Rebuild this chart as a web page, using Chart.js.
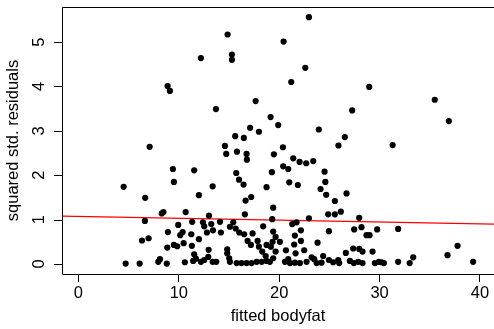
<!DOCTYPE html>
<html>
<head>
<meta charset="utf-8">
<script src="https://cdn.jsdelivr.net/npm/chart.js@4.4.1/dist/chart.umd.min.js"></script>
<style>
    html, body { margin: 0; padding: 0; background: #fff; overflow: hidden; }
    #wrap { width: 494px; height: 329px; }
</style>
</head>
<body>
<div id="wrap"><canvas id="residChart" width="494" height="329"></canvas></div>
<script>
// fitted values (x) and squared standardized residuals (y)
const fittedBodyfat = [
    14.86, 20.44, 12.2, 15.29, 15.29, 21.2, 8.88, 9.11, 17.65, 13.70, 19.14, 19.9, 17.1, 17.98, 15.62, 16.48,
    22.96, 22.6, 28.97, 35.5, 27.27, 36.9, 23.95, 26.54,
    7.09, 14.59, 14.72, 15.79, 9.41, 11.53, 15.72, 16.0, 4.5, 9.51, 13.37, 6.65, 12.0,
    20.37, 25.9, 16.75, 16.78, 19.47, 21.4, 22.03, 22.69, 23.39, 20.4, 20.9, 19.27, 24.52, 16.45, 21.0, 21.86,
    24.6, 18.74, 24.12, 24.68, 26.71, 17.21, 16.65, 25.55, 31.3,
    8.47, 8.3, 6.62, 8.91, 6.33, 6.99, 8.85, 7.95, 8.12, 8.8, 4.7, 6.1,
    10.68, 13.0, 9.94, 11.33, 12.4, 12.53, 13.23, 13.4, 10.38, 10.14, 11.24, 12.0, 12.8, 9.51, 9.84, 10.48,
    11.3, 12.97, 11.53, 10.6, 11.43, 11.7, 12.2, 12.53, 12.93, 13.37, 13.73,
    16.58, 14.1, 15.42, 15.09, 15.66, 16.02, 16.51, 17.35, 18.4, 14.19, 16.85, 17.85, 17.18, 17.98, 18.74,
    14.82, 14.82, 18.31, 15.02, 15.09, 15.76, 16.25, 16.75, 17.25, 17.75, 18.25, 18.74, 18.65,
    19.4, 19.3, 21.3, 21.73, 22.96, 19.4, 22.16, 19.64, 21.56, 19.34, 20.07, 22.16, 19.17, 21.49, 23.82,
    19.64, 20.67, 22.49, 21.63, 19.4, 23.23, 19.07, 20.57, 20.9, 21.07, 21.56, 22.06, 22.73, 23.49, 23.73,
    24.88, 25.55, 26.14, 27.97, 24.95, 27.47, 28.2, 28.7, 29.0, 29.76, 27.37, 27.97, 28.3, 26.64, 29.3,
    24.38, 24.95, 25.38, 25.88, 25.98, 24.22, 27.04, 27.44, 27.87, 28.3, 29.53, 29.93,
    31.85, 30.2, 30.43, 31.85, 33.0, 33.35, 36.77, 37.77, 39.32
];
const sqStdResid = [
    5.17, 5.01, 4.64, 4.72, 4.60, 4.10, 4.01, 3.90, 3.67, 3.49, 3.31, 3.13, 3.07, 2.98, 2.88, 2.84,
    5.56, 4.42, 3.99, 3.70, 3.46, 3.22, 3.03, 2.86,
    2.64, 2.66, 2.48, 2.53, 2.14, 2.11, 2.05, 1.90, 1.74, 1.85, 1.75, 1.49, 1.55,
    2.63, 2.67, 2.48, 2.35, 2.47, 2.38, 2.30, 2.27, 2.32, 2.20, 2.14, 2.07, 2.08, 1.79, 1.84, 1.78,
    1.85, 1.73, 1.69, 1.56, 1.59, 1.51, 1.43, 1.42, 2.68,
    1.17, 1.14, 0.97, 0.72, 0.53, 0.58, 0.37, 0.05, 0.11, 0.01, 0.01, 0.01,
    1.17, 1.09, 0.88, 0.95, 0.94, 0.85, 0.90, 0.76, 0.72, 0.65, 0.67, 0.56, 0.71, 0.43, 0.40, 0.47,
    0.41, 0.32, 0.22, 0.04, 0.07, 0.12, 0.05, 0.09, 0.16, 0.05, 0.05,
    1.12, 0.95, 0.94, 0.84, 0.80, 0.71, 0.67, 0.69, 0.85, 0.71, 0.52, 0.52, 0.43, 0.39, 0.43,
    0.33, 0.24, 0.28, 0.13, 0.05, 0.02, 0.02, 0.02, 0.02, 0.05, 0.05, 0.07, 0.18,
    1.27, 1.01, 0.90, 0.94, 1.03, 0.73, 0.76, 0.61, 0.64, 0.50, 0.50, 0.52, 0.39, 0.44, 0.48,
    0.28, 0.31, 0.31, 0.24, 0.13, 0.15, 0.05, 0.05, 0.11, 0.02, 0.03, 0.02, 0.05, 0.11, 0.02,
    1.12, 1.12, 1.18, 1.04, 0.74, 0.78, 0.83, 0.65, 0.65, 0.78, 0.35, 0.34, 0.28, 0.25, 0.28,
    0.18, 0.09, 0.04, 0.09, 0.02, 0.03, 0.07, 0.02, 0.05, 0.02, 0.02, 0.05,
    0.79, 0.04, 0.02, 0.05, 0.02, 0.15, 0.20, 0.41, 0.05
];

// red fitted line (ends at plot edges)
const lineX = [-1.64, 41.4];
const lineY = [1.08, 0.90];

// axis ticks
const xTicks = [0, 10, 20, 30, 40];
const yTicks = [0, 1, 2, 3, 4, 5];

const points = fittedBodyfat.map((x, i) => ({ x: x, y: sqStdResid[i] }));
const linePts = lineX.map((x, i) => ({ x: x, y: lineY[i] }));

const fontFamily = 'Liberation Sans, Arial, Helvetica, sans-serif';
const axisFont = { family: fontFamily, size: 16.5 };

// R-style box (top, left, bottom; the right edge falls outside the picture)
// plus the short y tick marks
const boxPlugin = {
    id: 'box',
    afterDraw(chart) {
        const { ctx, chartArea: a, width } = chart;
        const ys = chart.scales.y;
        ctx.save();
        ctx.strokeStyle = '#000';
        ctx.lineWidth = 1;
        ctx.beginPath();
        ctx.moveTo(width, a.top + 0.5);
        ctx.lineTo(a.left + 0.5, a.top + 0.5);
        ctx.lineTo(a.left + 0.5, a.bottom + 0.5);
        ctx.lineTo(width, a.bottom + 0.5);
        yTicks.forEach(v => {
            const py = Math.round(ys.getPixelForValue(v)) + 0.5;
            ctx.moveTo(a.left - 8, py);
            ctx.lineTo(a.left + 0.5, py);
        });
        ctx.stroke();
        ctx.restore();
    }
};

new Chart(document.getElementById('residChart'), {
    type: 'scatter',
    data: {
        datasets: [
            {
                data: points,
                backgroundColor: '#000',
                borderColor: '#000',
                pointRadius: 3.1,
                pointHoverRadius: 3.1,
                borderWidth: 0
            },
            {
                type: 'line',
                data: linePts,
                borderColor: '#ff0000',
                borderWidth: 1.2,
                pointRadius: 0,
                fill: false
            }
        ]
    },
    options: {
        responsive: false,
        devicePixelRatio: 1,
        animation: false,
        events: [],
        layout: { autoPadding: false, padding: { top: 7, right: 0, bottom: 0, left: 0 } },
        plugins: { legend: { display: false }, tooltip: { enabled: false } },
        scales: {
            x: {
                type: 'linear',
                min: -1.64,
                max: 41.4,
                afterBuildTicks: s => { s.ticks = xTicks.map(v => ({ value: v })); },
                afterFit: s => { s.height = 55; },
                grid: { drawOnChartArea: false, drawTicks: true, tickLength: 8, color: '#000' },
                border: { display: false },
                ticks: { color: '#000', font: axisFont, padding: 2, maxRotation: 0 },
                title: { display: true, text: 'fitted bodyfat', color: '#000', font: axisFont, padding: { top: 0, bottom: 3 } }
            },
            y: {
                type: 'linear',
                min: -0.225,
                max: 5.79,
                afterBuildTicks: s => { s.ticks = yTicks.map(v => ({ value: v })); },
                afterFit: s => { s.width = 62; },
                // tick marks drawn by boxPlugin; the long invisible tick only spaces the labels
                grid: { drawOnChartArea: false, drawTicks: true, tickLength: 18, tickColor: 'rgba(0,0,0,0)' },
                border: { display: false },
                ticks: {
                    color: '#000',
                    font: { family: fontFamily, size: 16.5, lineHeight: 0.8 },
                    padding: 0, minRotation: 90, maxRotation: 90, crossAlign: 'center'
                },
                title: { display: true, text: 'squared std. residuals', color: '#000', font: axisFont, padding: { top: 4, bottom: 0 } }
            }
        }
    },
    plugins: [boxPlugin]
});
</script>
</body>
</html>
